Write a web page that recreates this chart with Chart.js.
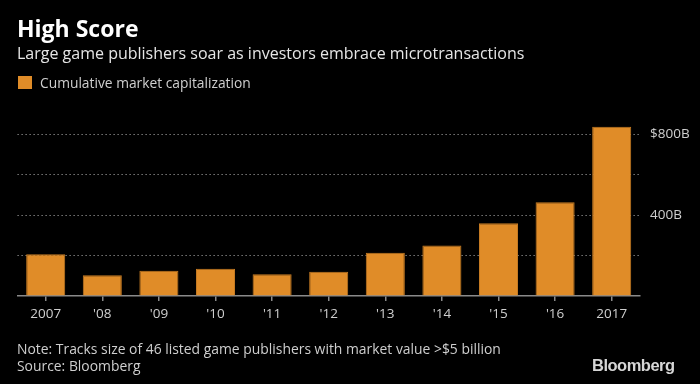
<!DOCTYPE html>
<html>
<head>
<meta charset="utf-8">
<script src="https://cdn.jsdelivr.net/npm/chart.js@4"></script>
<style>
  html, body { margin: 0; padding: 0; background: #000; }
  #wrap { position: relative; width: 700px; height: 384px; background: #000; overflow: hidden; font-family: "Open Sans", "Noto Sans", sans-serif; }
  #chart { position: absolute; left: 0; top: 0; }
  .t { position: absolute; white-space: nowrap; }
  #title { left: 17px; top: 12px; font-size: 23px; font-weight: bold; color: #fff; }
  #sub { left: 17px; top: 42px; font-size: 16px; color: #e6e6e6; }
  #legsq { position: absolute; left: 18px; top: 76px; width: 14px; height: 13px; background: #e08c28; }
  #leg { left: 40px; top: 73px; font-size: 13.8px; color: #cfcfcf; }
  #note { left: 17px; top: 340px; font-size: 13.9px; color: #cfcfcf; line-height: 17px; }
  #logo { left: 592px; top: 356px; font-size: 16.5px; font-weight: bold; color: #d6d6d6; letter-spacing: -0.5px; font-family: "Liberation Sans", Arial, sans-serif; }
</style>
</head>
<body>
<div id="wrap">
  <canvas id="chart" width="700" height="384"></canvas>
  <div class="t" id="title">High Score</div>
  <div class="t" id="sub">Large game publishers soar as investors embrace microtransactions</div>
  <div id="legsq"></div>
  <div class="t" id="leg">Cumulative market capitalization</div>
  <div class="t" id="note">Note: Tracks size of 46 listed game publishers with market value &gt;$5 billion<br>Source: Bloomberg</div>
  <div class="t" id="logo">Bloomberg</div>
</div>
<script>
const categories = ["2007", "'08", "'09", "'10", "'11", "'12", "'13", "'14", "'15", "'16", "2017"];
const marketCap = [206, 102, 125, 135, 107, 120, 214, 250, 359, 463, 836];
const seriesName = "Cumulative market capitalization";
const yTickLabels = {400: "400B", 800: "$800B"};

const W = 700, H = 384;
const plotLeft = 17.4, plotRight = 640, plotBottom = 296, plotTop = 117.8;

new Chart(document.getElementById('chart'), {
  type: 'bar',
  data: {
    labels: categories,
    datasets: [{
      label: seriesName,
      data: marketCap,
      backgroundColor: '#e08c28',
      borderColor: '#c47a22',
      borderWidth: 1,
      categoryPercentage: 1.0,
      barPercentage: 0.69
    }]
  },
  options: {
    responsive: false,
    animation: false,
    devicePixelRatio: 1,
    layout: { padding: { left: plotLeft, top: plotTop, right: 0, bottom: 0 } },
    plugins: { legend: { display: false }, tooltip: { enabled: false }, title: { display: false } },
    scales: {
      x: {
        offset: true,
        afterFit: (s) => { s.height = H - plotBottom; },
        grid: { offset: false, drawOnChartArea: false, drawTicks: true, tickLength: 5, color: '#8a8a8a', lineWidth: 1.5 },
        border: { display: true, color: '#8a8a8a', width: 1.5 },
        ticks: { color: '#cfcfcf', font: { family: '"Open Sans", "Noto Sans", sans-serif', size: 13.5 }, padding: 5, maxRotation: 0, autoSkip: false }
      },
      y: {
        position: 'right',
        min: 0,
        max: 880,
        afterFit: (s) => { s.width = W - plotRight; },
        border: { display: false, dash: [1.5, 2.5] },
        grid: {
          drawTicks: false,
          color: (ctx) => (ctx.tick && ctx.tick.value > 0 && ctx.tick.value % 200 === 0) ? '#7a7a7a' : 'rgba(0,0,0,0)',
          lineWidth: 1
        },
        ticks: {
          stepSize: 200,
          padding: 10,
          color: '#cfcfcf',
          font: { family: '"Open Sans", "Noto Sans", sans-serif', size: 13.5 },
          callback: (v) => yTickLabels[v] || ''
        }
      }
    }
  }
});
</script>
</body>
</html>
